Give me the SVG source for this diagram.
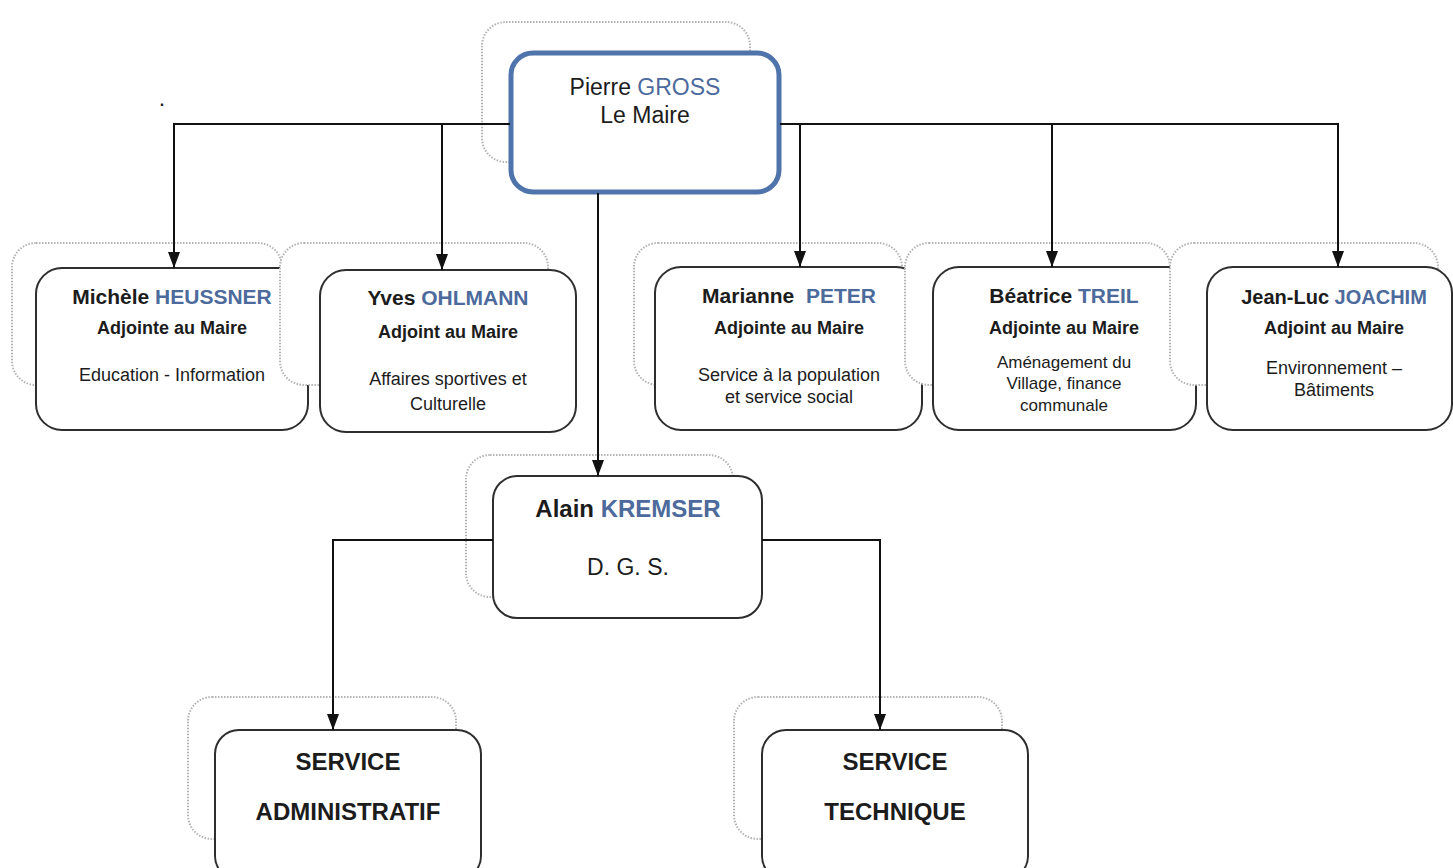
<svg xmlns="http://www.w3.org/2000/svg" width="1453" height="868" viewBox="0 0 1453 868">
<defs>
<style>
.bg{fill:#ffffff}
.sh{fill:#ffffff;stroke:#b4b4b4;stroke-width:2;stroke-dasharray:1.5 1.5}
.bx{fill:#ffffff;stroke:#2e2e2e;stroke-width:2}
.mayor{fill:#ffffff;stroke:#4f74ab;stroke-width:5}
.ln{fill:none;stroke:#111;stroke-width:2}
text{font-family:"Liberation Sans",Arial,sans-serif;fill:#1c1c1c;text-anchor:middle}
.nm{font-size:21px;font-weight:bold}
.bl{fill:#4d6a9c}
.ad{font-size:18px;font-weight:bold}
.ds{font-size:18px}
.big{font-size:24px;font-weight:bold}
</style>
<marker id="ah" viewBox="0 0 16 12" refX="16" refY="6" markerWidth="8" markerHeight="6" markerUnits="strokeWidth" orient="auto">
<path d="M0,0 L16,6 L0,12 z" fill="#111"/>
</marker>
</defs>
<rect class="bg" x="0" y="0" width="1453" height="868"/>
<text x="162" y="106" style="font-size:16px;font-weight:bold">.</text>

<g id="node-heussner">
<rect class="sh" x="12" y="243" width="270" height="142" rx="24"/>
<rect class="bx" x="36" y="268" width="272" height="162" rx="26"/>
<text class="nm" x="172" y="304">Michèle <tspan class="bl">HEUSSNER</tspan></text>
<text class="ad" x="172" y="334">Adjointe au Maire</text>
<text class="ds" x="172" y="381">Education - Information</text>
</g>

<g id="node-ohlmann">
<rect class="sh" x="280" y="243" width="268" height="142" rx="24"/>
<rect class="bx" x="320" y="270" width="256" height="162" rx="26"/>
<text class="nm" x="448" y="305">Yves <tspan class="bl">OHLMANN</tspan></text>
<text class="ad" x="448" y="338">Adjoint au Maire</text>
<text class="ds" x="448" y="385">Affaires sportives et</text>
<text class="ds" x="448" y="410">Culturelle</text>
</g>

<g id="node-gross">
<rect class="sh" x="482" y="22" width="268" height="140" rx="24"/>
<rect class="mayor" x="511" y="53" width="268" height="139" rx="22"/>
<text x="645" y="95" style="font-size:23px">Pierre <tspan class="bl">GROSS</tspan></text>
<text x="645" y="123" style="font-size:23px">Le Maire</text>
</g>

<g id="node-peter">
<rect class="sh" x="634" y="243" width="268" height="142" rx="24"/>
<rect class="bx" x="655" y="267" width="267" height="163" rx="26"/>
<text class="nm" x="789" y="303" xml:space="preserve">Marianne  <tspan class="bl">PETER</tspan></text>
<text class="ad" x="789" y="334">Adjointe au Maire</text>
<text class="ds" x="789" y="381">Service à la population</text>
<text class="ds" x="789" y="403">et service social</text>
</g>

<g id="node-treil">
<rect class="sh" x="905" y="243" width="265" height="142" rx="24"/>
<rect class="bx" x="933" y="267" width="263" height="163" rx="26"/>
<text class="nm" x="1064" y="303">Béatrice <tspan class="bl">TREIL</tspan></text>
<text class="ad" x="1064" y="334">Adjointe au Maire</text>
<text class="ds" x="1064" y="368" style="font-size:17px">Aménagement du</text>
<text class="ds" x="1064" y="389" style="font-size:17px">Village, finance</text>
<text class="ds" x="1064" y="411" style="font-size:17px">communale</text>
</g>

<g id="node-joachim">
<rect class="sh" x="1170" y="243" width="268" height="142" rx="24"/>
<rect class="bx" x="1207" y="267" width="245" height="163" rx="26"/>
<text class="nm" x="1334" y="304" style="font-size:20px">Jean-Luc <tspan class="bl">JOACHIM</tspan></text>
<text class="ad" x="1334" y="334">Adjoint au Maire</text>
<text class="ds" x="1334" y="374">Environnement –</text>
<text class="ds" x="1334" y="396">Bâtiments</text>
</g>

<g id="node-kremser">
<rect class="sh" x="466" y="455" width="267" height="142" rx="24"/>
<rect class="bx" x="493" y="476" width="269" height="142" rx="24"/>
<text class="big" x="628" y="517">Alain <tspan class="bl">KREMSER</tspan></text>
<text x="628" y="575" style="font-size:23px">D. G. S.</text>
</g>

<g id="node-admin">
<rect class="sh" x="188" y="697" width="268" height="142" rx="24"/>
<rect class="bx" x="215" y="730" width="266" height="150" rx="24"/>
<text class="big" x="348" y="770">SERVICE</text>
<text class="big" x="348" y="820">ADMINISTRATIF</text>
</g>

<g id="node-technique">
<rect class="sh" x="734" y="697" width="268" height="142" rx="24"/>
<rect class="bx" x="762" y="730" width="266" height="150" rx="24"/>
<text class="big" x="895" y="770">SERVICE</text>
<text class="big" x="895" y="820">TECHNIQUE</text>
</g>

<g id="connectors">
<path class="ln" d="M510,124 H174 V268" marker-end="url(#ah)"/>
<path class="ln" d="M442,124 V270" marker-end="url(#ah)"/>
<path class="ln" d="M780,124 H1338 V267" marker-end="url(#ah)"/>
<path class="ln" d="M800,124 V267" marker-end="url(#ah)"/>
<path class="ln" d="M1052,124 V267" marker-end="url(#ah)"/>
<path class="ln" d="M598,193 V476" marker-end="url(#ah)"/>
<path class="ln" d="M493,540 H333 V730" marker-end="url(#ah)"/>
<path class="ln" d="M762,540 H880 V730" marker-end="url(#ah)"/>
</g>
</svg>
